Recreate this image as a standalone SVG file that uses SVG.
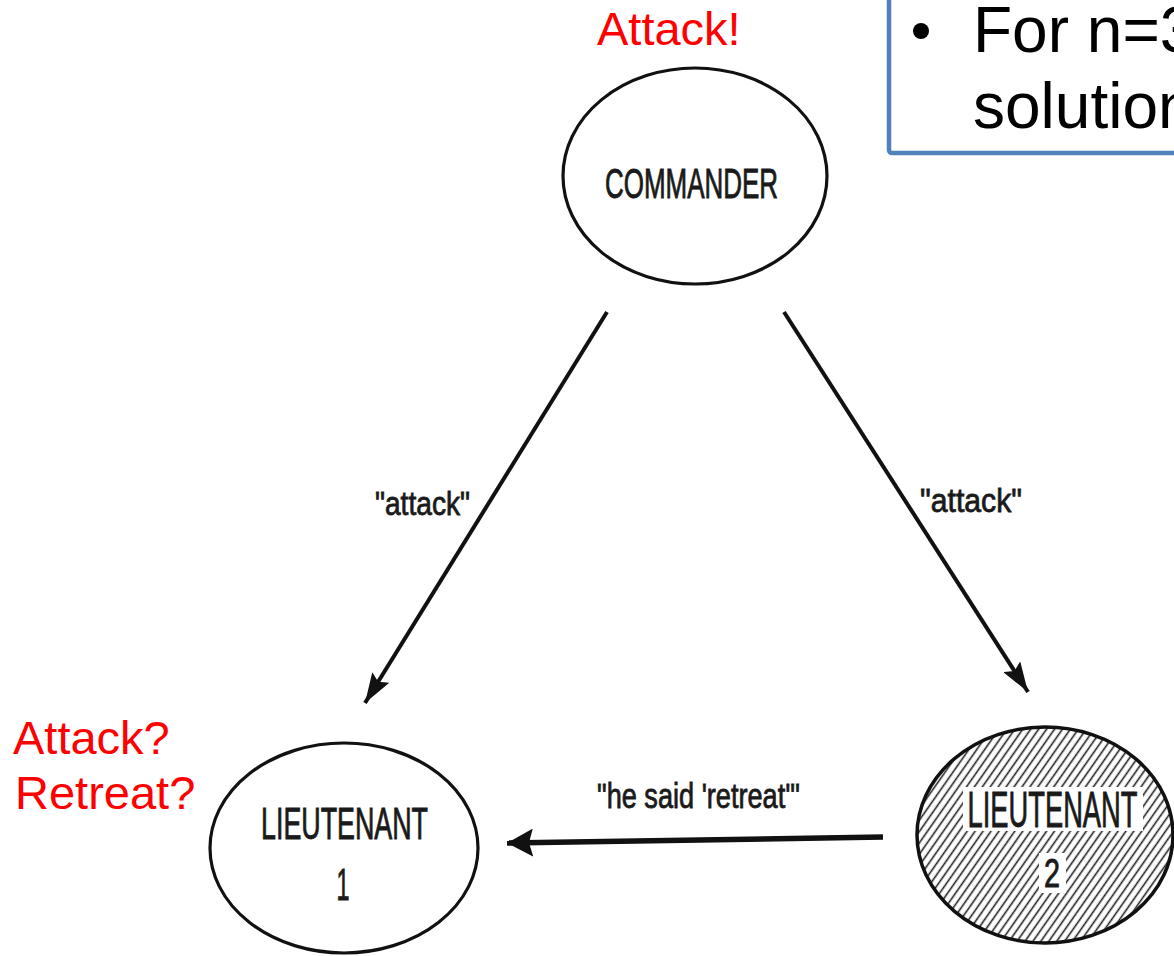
<svg xmlns="http://www.w3.org/2000/svg" width="1174" height="956" viewBox="0 0 1174 956">
  <style>
    .node { fill: #ffffff; stroke: #111111; stroke-width: 3.2; }
    .lbl { font-family: "Liberation Sans Narrow", "Liberation Sans", Arial, sans-serif; fill: #1a1a1a; stroke: #1a1a1a; stroke-width: 0.9; text-anchor: middle; }
    .edge-lbl { font-family: "Liberation Sans Narrow", "Liberation Sans", Arial, sans-serif; fill: #1a1a1a; stroke: #1a1a1a; stroke-width: 0.8; }
    .red { font-family: "Liberation Sans", Arial, sans-serif; fill: #ff0000; font-size: 47px; }
    .box-text { font-family: "Liberation Sans", Arial, sans-serif; fill: #000000; font-size: 64px; }
    .conn { stroke: #111111; fill: none; }
  </style>
  <defs>
    <pattern id="hatch" width="6.5" height="12" patternUnits="userSpaceOnUse" patternTransform="rotate(35)">
      <line x1="1.5" y1="0" x2="1.5" y2="12" stroke="#222222" stroke-width="1.6"/>
    </pattern>
    <marker id="head" viewBox="0 0 30 20" refX="30" refY="10" markerWidth="30" markerHeight="20" markerUnits="userSpaceOnUse" orient="auto">
      <path d="M0,0 L30,10 L0,20 L5,10 z" fill="#111111"/>
    </marker>
    <marker id="head2" viewBox="0 0 26 28" refX="26" refY="14" markerWidth="26" markerHeight="28" markerUnits="userSpaceOnUse" orient="auto">
      <path d="M0,0 L26,14 L0,28 L4,14 z" fill="#111111"/>
    </marker>
  </defs>
  <rect width="1174" height="956" fill="#ffffff"/>

  <g id="info-box">
    <rect x="889" y="-10" width="300" height="163" rx="3" fill="#ffffff" stroke="#4F81BD" stroke-width="4.5"/>
    <circle cx="921" cy="31" r="8" fill="#000000"/>
    <text class="box-text" x="973" y="52">For n=3</text>
    <text class="box-text" x="973" y="128">solution</text>
  </g>

  <g id="connectors">
    <line class="conn" x1="607" y1="312" x2="365" y2="703" stroke-width="4" marker-end="url(#head)"/>
    <line class="conn" x1="784" y1="312" x2="1028" y2="692" stroke-width="4" marker-end="url(#head)"/>
    <line class="conn" x1="883" y1="837" x2="507" y2="843" stroke-width="5.5" marker-end="url(#head2)"/>
    <text class="edge-lbl" x="375" y="515" font-size="34" textLength="95" lengthAdjust="spacingAndGlyphs">"attack"</text>
    <text class="edge-lbl" x="920" y="512" font-size="34" textLength="102" lengthAdjust="spacingAndGlyphs">"attack"</text>
    <text class="edge-lbl" x="597" y="808" font-size="35" textLength="203" lengthAdjust="spacingAndGlyphs">"he said 'retreat'"</text>
  </g>

  <g id="commander">
    <ellipse class="node" cx="695" cy="176" rx="132" ry="108"/>
    <text class="lbl" x="691.5" y="198" font-size="42" textLength="173" lengthAdjust="spacingAndGlyphs">COMMANDER</text>
  </g>

  <g id="lieutenant1">
    <ellipse class="node" cx="344" cy="848" rx="134" ry="105"/>
    <text class="lbl" x="344.5" y="839" font-size="44" textLength="167" lengthAdjust="spacingAndGlyphs">LIEUTENANT</text>
    <text class="lbl" x="343" y="900" font-size="44" textLength="13" lengthAdjust="spacingAndGlyphs">1</text>
  </g>

  <g id="lieutenant2">
    <ellipse cx="1045" cy="835" rx="128" ry="108" fill="url(#hatch)" stroke="#111111" stroke-width="3.5"/>
    <rect x="963" y="787" width="180" height="44" fill="#ffffff"/>
    <rect x="1039" y="853" width="27" height="40" fill="#ffffff"/>
    <text class="lbl" x="1052.5" y="827" font-size="50" textLength="170" lengthAdjust="spacingAndGlyphs">LIEUTENANT</text>
    <text class="lbl" x="1052" y="887" font-size="40" textLength="16" lengthAdjust="spacingAndGlyphs">2</text>
  </g>

  <g id="commander-note">
    <text class="red" x="597" y="45">Attack!</text>
  </g>

  <g id="lieutenant1-note">
    <text class="red" x="13" y="754">Attack?</text>
    <text class="red" x="15" y="809">Retreat?</text>
  </g>
</svg>
